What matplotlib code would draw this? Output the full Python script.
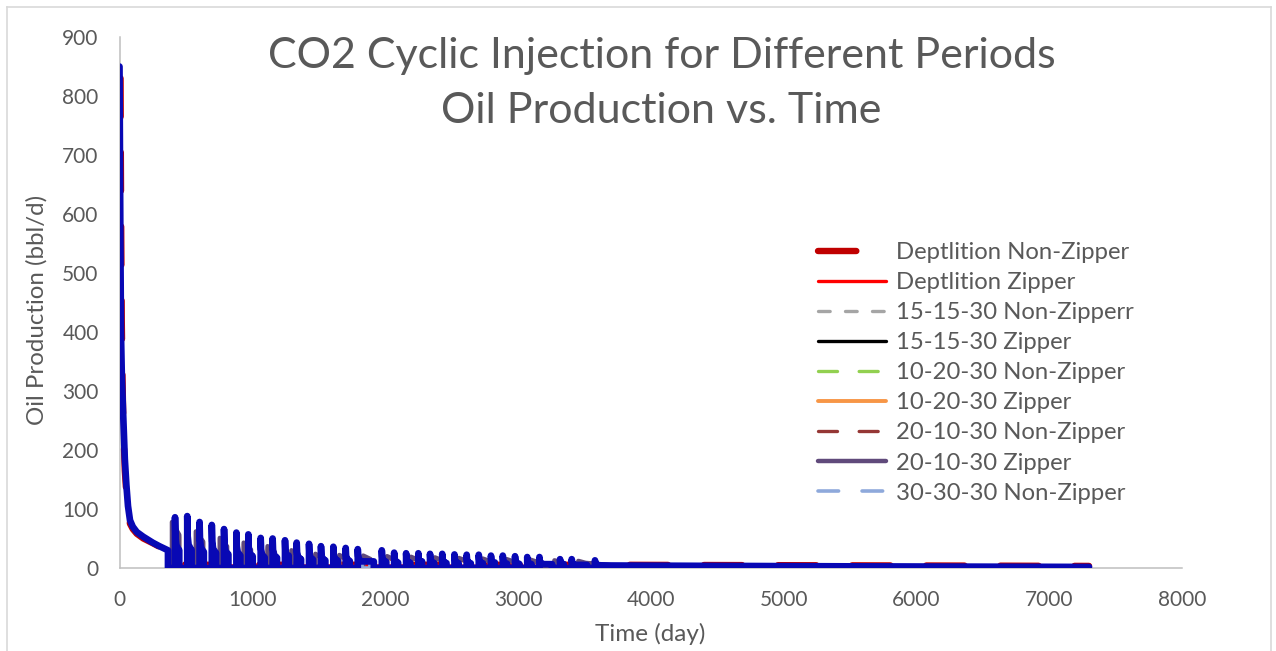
import numpy as np
import matplotlib
matplotlib.use("Agg")
import matplotlib.pyplot as plt

plt.rcParams["font.family"] = ["Lato", "DejaVu Sans"]
TXT = "#595959"

# ---- primary depletion, shared by the zipper and cyclic cases (days, bbl/d) ----
t_primary = [0, 3, 6, 11, 18, 29, 40, 52, 64, 79, 100, 130, 179, 250, 300, 365]
q_primary = [850, 700, 580, 400, 320, 251, 185, 140, 105, 81, 70, 61, 53, 43, 37, 30]

# ---- depletion, non-zipper well spacing ----
dep_nz_t = [8, 10, 13, 17, 22, 30, 40, 52, 64, 79, 100, 130, 179, 250, 300, 365,
            385, 400, 430, 600, 1000, 2000, 3000, 3600, 4500, 5500, 6500, 7300]
dep_nz_q = [830, 700, 560, 420, 330, 230, 165, 125, 95, 75, 66, 58, 50, 42, 36, 30,
            26, 22, 6, 5.5, 5.5, 5.5, 5.5, 5.5, 5.0, 4.5, 4.0, 3.5]
# ---- depletion, zipper well spacing (after the first year) ----
dep_z_t = [385, 400, 430, 600, 1000, 2000, 3000, 3600, 4500, 5500, 6500, 7300]
dep_z_q = [25, 20, 4, 3.5, 3.5, 3.5, 3.0, 3.0, 2.8, 2.5, 2.2, 2.0]

# ---- 15-15-30, 10-20-30 and 20-10-30 cases: production start days, peak rates ----
cycle180_t = list(range(395, 3456, 180))
p151530_nz = [70, 56, 46, 39, 33, 27, 22, 20, 19, 18, 17, 16, 15, 14, 13, 12, 12, 11]
p151530_z = [75, 60, 49, 41, 35, 29, 23, 21, 20, 19, 18, 17, 16, 15, 14, 13, 12, 11]
p102030_nz = [66, 54, 44, 37, 32, 26, 21, 19, 18, 17, 16, 15, 14, 13, 12, 11, 11, 10]
p102030_z = [73, 59, 48, 40, 34, 28, 22, 20, 19, 18, 17, 16, 15, 14, 13, 12, 11, 11]
p201030_nz = [68, 55, 45, 38, 32, 27, 21, 20, 19, 18, 17, 16, 15, 14, 13, 12, 11, 10]
p201030_z = [78, 62, 51, 43, 37, 30, 24, 22, 21, 20, 19, 18, 17, 16, 15, 14, 13, 12]
tail180_t = [3700, 4500, 5500, 6500, 7300]
tail180_q = [5.0, 4.0, 3.2, 2.6, 2.2]

# ---- 30-30-30 cases: production start days and peak rates ----
p303030_nz_t = [418, 510, 603, 695, 787, 880, 970, 1063, 1153, 1246, 1334, 1427, 1517,
                1610, 1703, 1794, 1886, 1975, 2068, 2158, 2250, 2338, 2430, 2522, 2614,
                2705, 2797, 2886, 2978, 3070, 3162, 3317, 3405, 3580]
p303030_nz_q = [80, 82, 73, 68, 62, 56, 53, 48, 46, 44, 40, 38, 35, 33, 31, 29, 27, 30,
                30, 23, 23, 22, 22, 21, 21, 21, 20, 19, 18, 17, 17, 14, 14, 12]
p303030_z_t = [418, 510, 603, 695, 787, 880, 970, 1063, 1153, 1246, 1334, 1427, 1517,
               1610, 1703, 1794, 1975, 2068, 2158, 2250, 2338, 2430, 2522, 2614, 2705,
               2797, 2886, 2978, 3070, 3162, 3317, 3405, 3580]
p303030_z_q = [86, 88, 78, 73, 66, 60, 57, 51, 50, 47, 43, 41, 37, 36, 34, 32, 30, 26,
               25, 25, 24, 24, 23, 22.5, 22.5, 21, 21, 20, 18.6, 18.6, 15, 15, 13]
tail90_t = [3700, 4500, 5500, 6500, 7300]
tail90_q = [4.2, 3.5, 2.8, 2.2, 1.8]

# decline within one production period (age in days, fraction of the peak)
spike_age = [0, 3, 10, 30]
spike_frac = [1.0, 0.62, 0.45, 0.35]
hump_age = [0, 20, 55]
hump_frac = [1.0, 0.9, 0.72]


def cyclic(peak_t, peak_q, shut_days, ages, fracs, tail_t, tail_q):
    t, q = list(t_primary), list(q_primary)
    t.append(t_primary[-1]); q.append(0.0)
    n = len(peak_t)
    for i in range(n):
        tp, qp = peak_t[i], peak_q[i]
        t += [tp, tp]; q += [0.0, qp]
        if i + 1 < n:
            end = peak_t[i + 1] - shut_days
            for a, f in zip(ages[1:], fracs[1:]):
                if tp + a <= end:
                    t.append(tp + a); q.append(qp * f)
            if t[-1] < end:
                t.append(end); q.append(q[-1])
            t.append(end); q.append(0.0)
        else:
            for a, f in zip(ages[1:], fracs[1:]):
                t.append(tp + a); q.append(qp * f)
            t += tail_t; q += tail_q
    return t, q


def hump_case(peaks):
    return cyclic(cycle180_t, peaks, 125, hump_age, hump_frac, tail180_t, tail180_q)


fig = plt.figure(figsize=(12.76, 6.51), dpi=100)
W, H = 1276, 651
x0, x1, y0, y1 = 119.5, 1182.0, 568.0, 37.0
ax = fig.add_axes([x0 / W, 1 - y0 / H, (x1 - x0) / W, (y0 - y1) / H])

common = dict(solid_capstyle="round", dash_capstyle="round",
              solid_joinstyle="round", dash_joinstyle="round")

series = [
    ("Deptlition Non-Zipper", (dep_nz_t, dep_nz_q), "#C00000", 4.6, (6.0, 5.6)),
    ("Deptlition Zipper", (t_primary + dep_z_t, q_primary + dep_z_q), "#FF0000", 2.4, None),
    ("15-15-30 Non-Zipperr", hump_case(p151530_nz), "#A5A5A5", 2.4, (3.5, 4.6)),
    ("15-15-30 Zipper", hump_case(p151530_z), "#000000", 2.4, None),
    ("10-20-30 Non-Zipper", hump_case(p102030_nz), "#92D050", 2.4, (5.7, 6.5)),
    ("10-20-30 Zipper", hump_case(p102030_z), "#F79646", 2.8, None),
    ("20-10-30 Non-Zipper", hump_case(p201030_nz), "#953735", 2.4, (5.7, 6.5)),
    ("20-10-30 Zipper", hump_case(p201030_z), "#604A7B", 3.2, None),
    ("30-30-30 Non-Zipper", cyclic(p303030_nz_t, p303030_nz_q, 60, spike_age, spike_frac, tail90_t, tail90_q), "#8EA9DB", 2.6, (5.7, 6.5)),
    ("30-30-30 Zipper", cyclic(p303030_z_t, p303030_z_q, 60, spike_age, spike_frac, tail90_t, tail90_q), "#0808B4", 4.8, None),
]

handles = []
for name, (tt, qq), color, lw, dash in series:
    ln, = ax.plot(tt, qq, color=color, lw=lw, label=name, **common)
    if dash is not None:
        ln.set_dashes(dash)
    handles.append(ln)

ax.set_xlim(0, 8000)
ax.set_ylim(0, 900)
ax.set_xticks(range(0, 8001, 1000))
ax.set_yticks(range(0, 901, 100))
for side in ("top", "right"):
    ax.spines[side].set_visible(False)
for side in ("left", "bottom"):
    ax.spines[side].set_color("#BFBFBF")
    ax.spines[side].set_linewidth(1.1)
    ax.spines[side].set_zorder(0.5)
ax.tick_params(length=0, labelsize=15, labelcolor=TXT)
ax.tick_params(axis="x", pad=16)
ax.tick_params(axis="y", pad=15)
ax.patch.set_alpha(0)

fig.text(37 / W, 1 - 310 / H, "Oil Production (bbl/d)", rotation=90, ha="center",
         va="center", fontsize=17.3, color=TXT)
fig.text(650 / W, 1 - 634 / H, "Time (day)", ha="center", va="center",
         fontsize=17.5, color=TXT)
fig.text(661.5 / W, 1 - 56 / H, "CO2 Cyclic Injection for Different Periods",
         ha="center", va="center", fontsize=31, color=TXT)
fig.text(661.5 / W, 1 - 111 / H, "Oil Production vs. Time",
         ha="center", va="center", fontsize=31, color=TXT)

leg = fig.legend(handles=handles[:9], loc="upper left",
                 bbox_to_anchor=(818 / W, 1 - 242 / H), frameon=False,
                 fontsize=17.2, labelcolor=TXT, handlelength=2.85, handletextpad=0.42,
                 labelspacing=0.38, borderpad=0, borderaxespad=0)

# chart frame
frame = dict(transform=fig.transFigure, color="#D9D9D9", lw=1.2)
fig.add_artist(plt.Line2D([7 / W, 7 / W], [0, 1 - 7 / H], **frame))
fig.add_artist(plt.Line2D([7 / W, 1271 / W], [1 - 7 / H, 1 - 7 / H], **frame))
fig.add_artist(plt.Line2D([1271 / W, 1271 / W], [0, 1 - 7 / H], **frame))

fig.savefig("out.png", dpi=100)
